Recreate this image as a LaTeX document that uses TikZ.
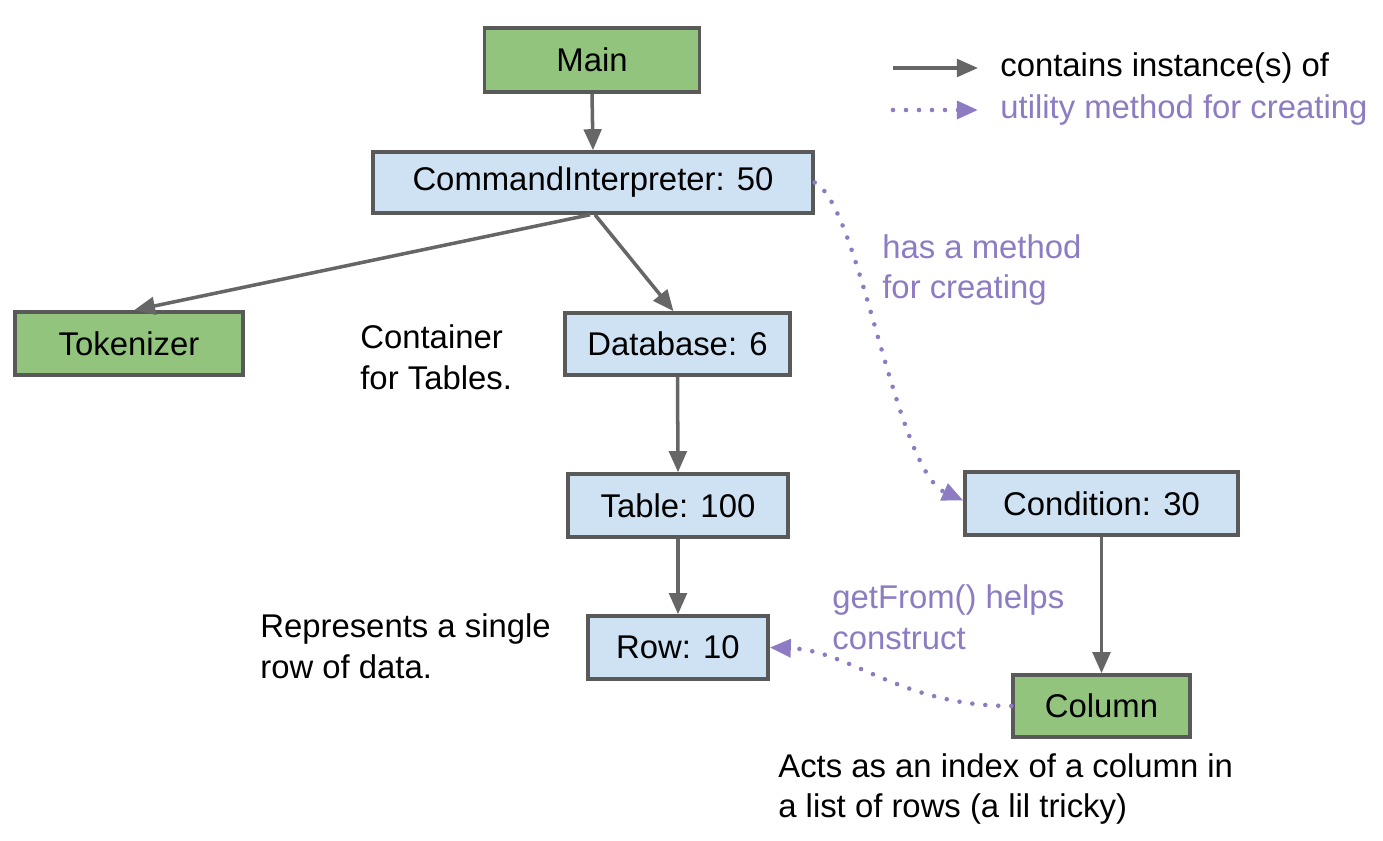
\documentclass[tikz,border=0pt]{standalone}
\usepackage{fontspec}
\setmainfont{Liberation Sans}
\usetikzlibrary{arrows.meta}
\definecolor{boxgreen}{HTML}{93C47D}
\definecolor{boxblue}{HTML}{CFE2F3}
\definecolor{edgegray}{HTML}{595959}
\definecolor{arrowgray}{HTML}{666666}
\definecolor{purp}{HTML}{8E7CC3}
\tikzset{
  box/.style={draw=edgegray, line width=2pt, minimum height=1.26cm, inner sep=0pt,
    font=\fontsize{18.7}{23.3}\selectfont},
  gbox/.style={box, fill=boxgreen},
  bbox/.style={box, fill=boxblue},
  contains/.style={draw=arrowgray, line width=2pt, -{Triangle[length=12pt,width=10pt]}},
  creates/.style={draw=purp, line width=2.6pt, line cap=round, dash pattern=on 0pt off 7.4pt,
    -{Triangle[length=12pt,width=10pt]}},
  note/.style={font=\fontsize{18.7}{23.3}\selectfont, align=left, anchor=west, inner sep=0pt},
  pnote/.style={note, text=purp}
}
\begin{document}
\begin{tikzpicture}[x=0.02cm, y=-0.02cm]
\path[fill=white, use as bounding box] (0,0) rectangle (1383,841);

% boxes
\node[gbox, minimum width=4.3cm, minimum height=1.28cm] (main) at (592,60) {Main};
\node[bbox, minimum width=8.8cm, minimum height=1.22cm] (ci) at (593,182.5) {CommandInterpreter: 50};
\node[gbox, minimum width=4.56cm] (tok) at (129,343.5) {Tokenizer};
\node[bbox, minimum width=4.5cm, minimum height=1.24cm] (db) at (677.5,344) {Database: 6};
\node[bbox, minimum width=4.4cm] (tab) at (678,505.5) {Table: 100};
\node[bbox, minimum width=5.46cm] (cond) at (1101.5,503.5) {Condition: 30};
\node[bbox, minimum width=3.6cm] (row) at (678,647.5) {Row: 10};
\node[gbox, minimum width=3.54cm, minimum height=1.24cm] (col) at (1101.5,706) {Column};

% notes
\node[note] (n1) at (360,357) {Container\\for Tables.};
\node[note] (n2) at (260,646) {Represents a single\\row of data.};
\node[note] (n3) at (778,789) {Acts as an index of a column in\\a list of rows (a lil tricky)};
\node[pnote] (n4) at (882,270) {has a method\\for creating};
\node[pnote] (n5) at (832,617) {getFrom() helps\\construct};

% contains connectors
\draw[contains] (main.south) -- (ci.north);
\draw[contains] ([xshift=-0.06cm]ci.south) -- ([xshift=0.1cm]tok.north);
\draw[contains] ([xshift=0.04cm]ci.south) -- ([xshift=-0.08cm]db.north);
\draw[contains] (db.south) -- (tab.north);
\draw[contains] (tab.south) -- (row.north);
\draw[contains] (cond.south) -- (col.north);

% utility connectors
\draw[creates] (ci.east) .. controls (860,205) and (895,470) .. ([yshift=0.06cm]cond.west);
\draw[creates] (col.west) .. controls (900,706) and (850,650) .. (row.east);

% legend
\coordinate (l1s) at (893,68);
\coordinate (l1e) at (978,68);
\coordinate (l2s) at (893,110);
\coordinate (l2e) at (978,110);
\draw[contains] (l1s) -- (l1e);
\draw[creates] (l2s) -- (l2e);
\node[note] (lt1) at (1000,68) {contains instance(s) of};
\node[pnote] (lt2) at (1000,110) {utility method for creating};
\end{tikzpicture}
\end{document}
